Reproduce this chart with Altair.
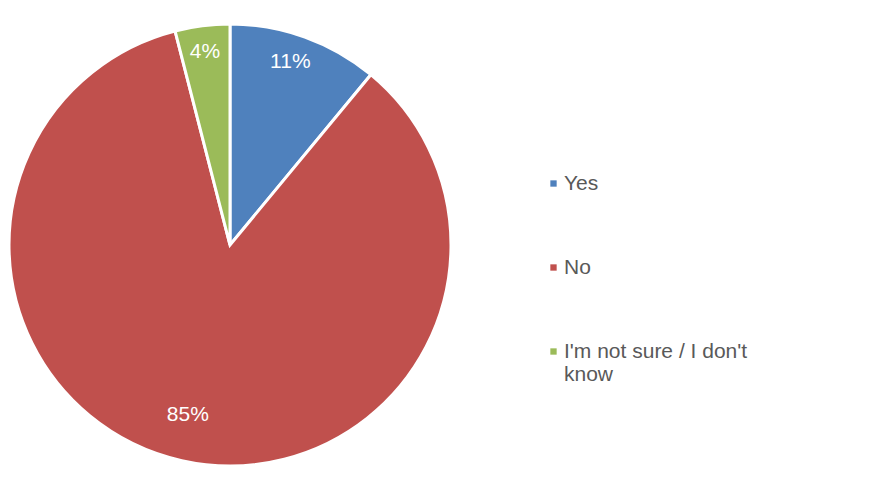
import altair as alt
import pandas as pd

categories = ["Yes", "No", "I'm not sure / I don't know"]
values = [11, 85, 4]
labels = ["11%", "85%", "4%"]
colors = ["#4F81BD", "#C0504D", "#9BBB59"]

df = pd.DataFrame({"cat": categories, "val": values, "lab": labels, "ord": [0, 1, 2]})

theta = alt.Theta("val:Q", stack=True)
color = alt.Color(
    "cat:N",
    scale=alt.Scale(domain=categories, range=colors),
    sort=categories,
    legend=alt.Legend(
        title=None,
        orient="none",
        legendX=535,
        legendY=165,
        symbolType="square",
        symbolSize=40,
        symbolStrokeWidth=0,
        labelFont="Liberation Sans",
        labelFontSize=21,
        labelColor="#595959",
        rowPadding=62,
        labelLimit=400,
        labelOffset=0,
        labelExpr="datum.label == \"I'm not sure / I don't know\" ? [\"I'm not sure / I don't\", 'know'] : datum.label",
    ),
)

base = alt.Chart(df).encode(
    theta=theta,
    order=alt.Order("ord:Q"),
)

pie = base.mark_arc(stroke="white", strokeWidth=3, radius=221).encode(
    color=color,
    x=alt.value(222),
    y=alt.value(237),
)

text = base.mark_text(
    radius=184, font="Liberation Sans", fontSize=21, color="white"
).encode(
    text="lab:N",
    x=alt.value(220),
    y=alt.value(227),
)

chart = (
    alt.layer(pie, text)
    .properties(
        width=859,
        height=461,
        padding=0,
        background="white",
        autosize=alt.AutoSizeParams(type="none"),
    )
    .configure_view(stroke=None)
)

chart.save("out.html", embed_options={"renderer": "svg", "actions": False})
